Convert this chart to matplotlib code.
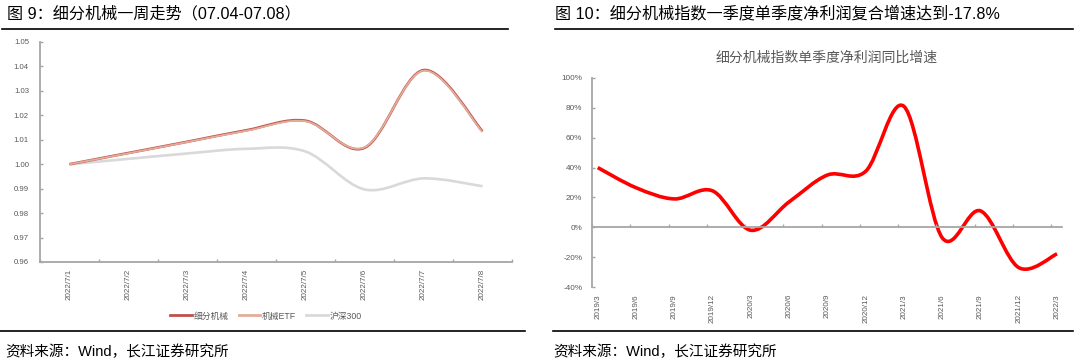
import numpy as np
import matplotlib
matplotlib.use('Agg')
import matplotlib.pyplot as plt
from matplotlib.path import Path
from matplotlib.patches import PathPatch
from matplotlib.lines import Line2D

plt.rcParams['font.family'] = ['Liberation Sans', 'Noto Sans CJK SC', 'DejaVu Sans']

# 图9 数据
dias = ['2022/7/1', '2022/7/2', '2022/7/3', '2022/7/4',
        '2022/7/5', '2022/7/6', '2022/7/7', '2022/7/8']
xifen = [1.0000, 1.0046, 1.0092, 1.0139, 1.0178, 1.0067, 1.0385, 1.0135]
etf = [1.0000, 1.0045, 1.0091, 1.0137, 1.0176, 1.0069, 1.0383, 1.0132]
hs300 = [1.0000, 1.0022, 1.0044, 1.0063, 1.0052, 0.9897, 0.9942, 0.9910]

# 图10 数据
trimestres = ['2019/3', '2019/6', '2019/9', '2019/12', '2020/3', '2020/6', '2020/9',
              '2020/12', '2021/3', '2021/6', '2021/9', '2021/12', '2022/3']
crecimiento = [40, 26.5, 19, 24.4, -2, 17, 35, 37.5, 81, -7, 11, -27, -17.8]

gris = '#595959'
eje = '#A6A6A6'


def curva_suave(x, y):
    # curva suavizada tipo Excel (Catmull-Rom -> Bezier)
    p = np.column_stack([x, y]).astype(float)
    n = len(p)
    verts = [p[0]]
    codes = [Path.MOVETO]
    for i in range(n - 1):
        p0 = p[i - 1] if i > 0 else p[i]
        p3 = p[i + 2] if i + 2 < n else p[i + 1]
        c1 = p[i] + (p[i + 1] - p0) / 6
        c2 = p[i + 1] - (p3 - p[i]) / 6
        verts += [c1, c2, p[i + 1]]
        codes += [Path.CURVE4] * 3
    return Path(verts, codes)


def dibujar(ax, x, y, color, lw):
    ax.add_patch(PathPatch(curva_suave(x, y), fill=False, edgecolor=color,
                           lw=lw, capstyle='butt', joinstyle='round'))


fig = plt.figure(figsize=(10.8, 3.63), dpi=100)

# cabeceras
fig.text(7 / 1080, 1 - 14 / 363, '图 9：细分机械一周走势（07.04-07.08）',
         fontsize=11.6, va='center', ha='left', color='black')
fig.text(555 / 1080, 1 - 14 / 363, '图 10：细分机械指数一季度单季度净利润复合增速达到-17.8%',
         fontsize=11.6, va='center', ha='left', color='black')
fig.add_artist(Line2D([2 / 1080, 508 / 1080], [1 - 29 / 363] * 2, color='black', lw=1.2))
fig.add_artist(Line2D([555 / 1080, 1073 / 1080], [1 - 29 / 363] * 2, color='black', lw=1.2))
fig.add_artist(Line2D([0, 525 / 1080], [1 - 331 / 363] * 2, color='black', lw=1.2))
fig.add_artist(Line2D([553 / 1080, 1073 / 1080], [1 - 331 / 363] * 2, color='black', lw=1.2))
fig.text(5 / 1080, 1 - 352 / 363, '资料来源：Wind，长江证券研究所',
         fontsize=10.5, va='center', ha='left', color='black')
fig.text(553 / 1080, 1 - 352 / 363, '资料来源：Wind，长江证券研究所',
         fontsize=10.5, va='center', ha='left', color='black')

# grafico izquierdo
ax1 = fig.add_axes([40 / 1080, 1 - 262 / 363, 472 / 1080, 220 / 363])
xs = np.arange(len(dias))
dibujar(ax1, xs, hs300, '#D9D9D9', 1.9)
dibujar(ax1, xs, xifen, '#C0504D', 1.9)
dibujar(ax1, xs, etf, '#E2AE9A', 1.3)
ax1.set_xlim(-0.5, len(dias) - 0.5)
ax1.set_ylim(0.96, 1.05)
ax1.set_yticks(np.arange(0.96, 1.0501, 0.01))
ax1.set_yticklabels(['%.2f' % v for v in np.arange(0.96, 1.0501, 0.01)])
ax1.set_xticks(xs)
ax1.set_xticklabels(dias, rotation=90)
ax1.set_xticks(np.arange(-0.5, len(dias)), minor=True)
ax1.tick_params(axis='x', which='major', length=0, pad=5, labelsize=5.8, labelcolor=gris)
ax1.tick_params(axis='x', which='minor', length=2.5, direction='in', color=eje, width=1)
ax1.tick_params(axis='y', length=2.5, direction='in', color=eje, width=1, pad=8,
                labelsize=5.6, labelcolor=gris)
for s in ['top', 'right']:
    ax1.spines[s].set_visible(False)
for s in ['left', 'bottom']:
    ax1.spines[s].set_color(eje)
    ax1.spines[s].set_linewidth(1.3)

handles = [Line2D([], [], color='#C0504D', lw=2),
           Line2D([], [], color='#E2AE9A', lw=2),
           Line2D([], [], color='#D9D9D9', lw=2)]
fig.legend(handles, ['细分机械', '机械ETF', '沪深300'], loc='center',
           bbox_to_anchor=(266 / 1080, 1 - 316 / 363), ncol=3, frameon=False,
           fontsize=6.3, handlelength=2.5, handletextpad=0.2, columnspacing=1.1,
           labelcolor=gris)

# grafico derecho
ax2 = fig.add_axes([592 / 1080, 1 - 287 / 363, 470 / 1080, 209 / 363])
xq = np.arange(len(trimestres))
dibujar(ax2, xq, np.array(crecimiento) / 100, '#FF0000', 2.6)
ax2.set_xlim(-0.104, 12.13)
ax2.set_ylim(-0.4, 1.0)
yt = np.arange(-0.4, 1.001, 0.2)
ax2.set_yticks(yt)
ax2.set_yticklabels(['%d%%' % round(v * 100) for v in yt])
ax2.tick_params(axis='y', length=2.5, direction='in', color=eje, width=1, pad=7,
                labelsize=5.9, labelcolor=gris)
ax2.spines['bottom'].set_position(('data', 0))
ax2.spines['bottom'].set_color(eje)
ax2.spines['bottom'].set_linewidth(1.3)
ax2.spines['left'].set_color(eje)
ax2.spines['left'].set_linewidth(1.3)
for s in ['top', 'right']:
    ax2.spines[s].set_visible(False)
ax2.set_xticks(xq - 0.15)
ax2.set_xticklabels([])
ax2.tick_params(axis='x', length=2.5, direction='in', color=eje, width=1)
sec = ax2.secondary_xaxis(0)
sec.set_xticks(xq)
sec.set_xticklabels(trimestres, rotation=90)
sec.tick_params(length=0, pad=5, labelsize=5.8, labelcolor=gris)
sec.spines['bottom'].set_visible(False)
ax2.set_title('细分机械指数单季度净利润同比增速', fontsize=10, color=gris, pad=12)

fig.savefig('out.png', dpi=100)
